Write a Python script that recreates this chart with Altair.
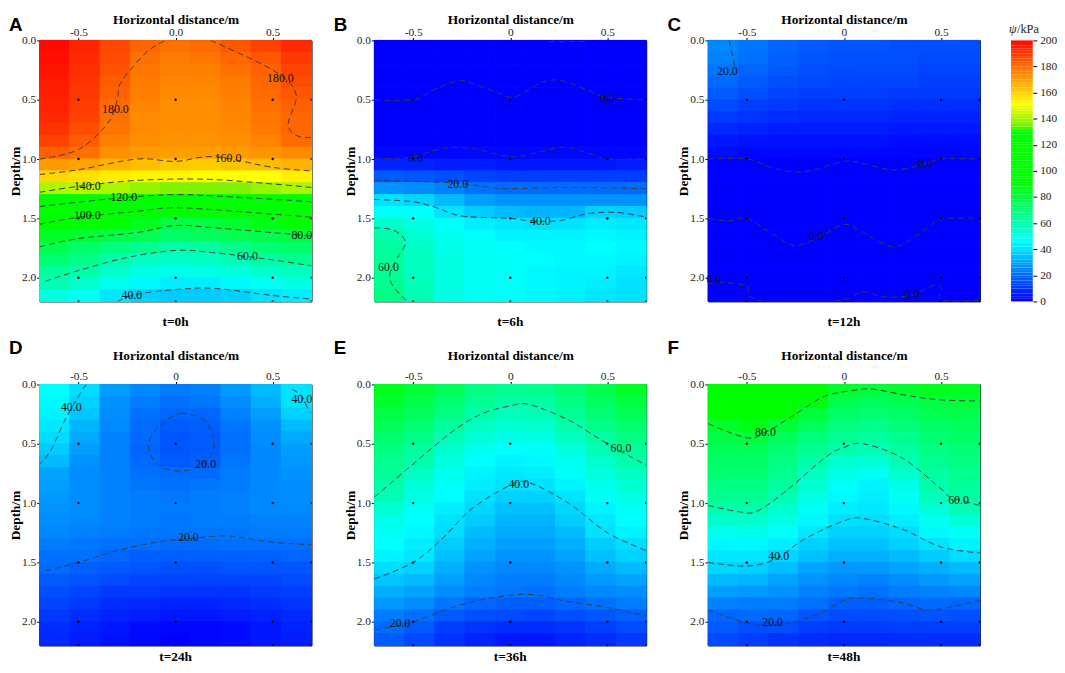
import pandas as pd
import altair as alt

# psi values (kPa), 22 depth rows x 9 columns
heat_a = [
    [198,193,186,180,178,179,183,187,192],[197,192,185,178,176,177,180,183,189],
    [196,191,184,177,175,175,178,181,187],[195,190,182,176,174,174,176,180,185],
    [194,189,181,175,173,173,175,179,183],[193,188,179,174,172,172,174,178,181],
    [192,187,178,173,172,172,174,177,180],[190,185,177,173,172,172,173,176,180],
    [187,182,175,172,171,171,172,174,179],[181,178,172,170,169,169,170,171,173],
    [170,168,165,163,161,160,162,163,165],[158,156,154,152,152,150,150,150,153],
    [140,141,140,137,135,135,135,138,140],[123,123,122,120,116,116,116,118,120],
    [107,108,106,100,97,96,98,100,104],[100,95,90,85,78,78,82,86,90],
    [84,81,78,76,72,74,76,77,79],[76,72,68,65,60,61,65,70,72],
    [70,66,60,56,55,56,58,61,64],[62,60,54,50,48,49,51,54,56],
    [58,54,48,44,42,42,44,47,50],[50,47,41,37,36,36,37,40,42],
]
heat_b = [
    [0,0,0,0,0,0,0,0,0],[0,0,0,0,0,0,0,0,0],[0,0,0,0,0,0,0,0,0],[0,0,0,0,0,0,0,0,0],
    [0,0,0,0,0,0,0,0,0],[0,0,0,0,0,0,0,0,0],[0,0,0,0,0,0,0,0,0],[0,0,0,0,0,0,0,0,0],
    [0,0,0,0,0,0,0,0,0],[1,1,1,1,1,1,1,1,1],
    [6,6,5,5,4,4,4,4,5],[16,15,14,12,11,11,11,11,11],
    [26,25,23,20,19,19,19,19,19],[40,38,33,28,26,26,26,26,26],
    [46,45,40,36,33,32,32,37,36],[54,50,46,42,41,40,40,42,41],
    [60,53,48,45,43,43,43,44,43],[62,55,49,46,45,44,44,45,44],
    [63,56,50,47,46,45,44,44,43],[63,56,50,47,46,44,43,43,41],
    [65,57,50,47,46,44,43,42,40],[67,58,50,47,45,44,43,41,40],
]
heat_c = [
    [24,21,18,16,15,15,14,14,14],[23,20,17,15,14,14,14,13,13],
    [21,18,16,14,13,13,13,12,12],[19,16,14,13,12,12,12,11,11],
    [16,14,12,11,11,11,10,10,10],[13,11,10,9,9,9,8,8,8],
    [10,9,8,7,7,7,6,6,6],[7,6,5,5,5,5,4,4,4],
    [4,3,3,3,3,3,2,2,2],[2,1,1,1,1,1,1,1,1],
    [0,0,0,0,0,0,0,0,0],[0,0,0,0,0,0,0,0,0],[0,0,0,0,0,0,0,0,0],[0,0,0,0,0,0,0,0,0],
    [0,0,0,0,0,0,0,0,0],[0,0,0,0,0,0,0,0,0],[0,0,0,0,0,0,0,0,0],[0,0,0,0,0,0,0,0,0],
    [0,0,0,0,0,0,0,0,0],[0,0,0,0,0,0,0,0,0],[0,0,0,0,0,0,0,0,0],[0,0,0,0,0,0,0,0,0],
]
heat_d = [
    [45,39,28,24,22,23,27,33,40],[44,37,26,22,20,21,25,31,40],
    [43,35,25,20,18,18,23,28,37],[41,32,24,19,16,17,21,26,33],
    [39,30,23,19,15,16,20,25,30],[36,28,23,18,15,16,20,24,28],
    [33,26,23,19,16,17,21,24,27],[29,25,23,20,19,19,22,24,26],
    [28,25,23,21,20,21,22,24,25],[27,25,23,22,21,22,23,24,25],
    [26,25,23,22,22,22,23,24,24],[25,24,23,22,21,22,22,23,23],
    [24,23,22,21,21,21,21,22,22],[22,21,20,20,19,19,20,20,20],
    [20,20,18,17,17,17,17,17,18],[19,17,16,15,14,14,15,15,15],
    [16,15,13,12,12,12,12,12,13],[14,12,10,10,9,9,9,10,11],
    [12,10,8,7,6,6,7,8,9],[10,8,6,5,4,4,5,6,7],
    [8,6,4,2,1,1,2,4,6],[7,5,3,1,0,1,2,4,5],
]
heat_e = [
    [85,80,74,67,64,65,70,76,83],[82,77,71,64,61,61,67,73,79],
    [78,74,67,60,57,58,64,70,75],[75,70,62,56,53,54,60,66,71],
    [71,66,58,52,49,50,56,61,67],[68,62,54,48,45,46,51,58,63],
    [65,60,51,45,43,44,48,54,60],[63,55,48,43,41,42,46,51,56],
    [60,52,46,42,40,40,43,48,53],[58,50,45,40,37,37,40,46,50],
    [53,47,42,38,34,34,38,43,47],[49,45,40,36,32,32,36,41,45],
    [47,44,39,33,30,30,33,40,43],[45,42,36,31,28,28,31,36,39],
    [43,41,34,29,26,26,29,34,37],[39,37,31,26,24,24,26,30,33],
    [35,33,28,24,22,22,24,27,29],[31,29,25,22,21,20,22,24,25],
    [27,25,21,18,17,17,18,20,22],[22,20,16,14,13,12,14,15,17],
    [19,16,11,9,8,8,9,11,13],[16,13,9,6,4,4,6,8,10],
]
heat_f = [
    [108,116,116,100,82,80,82,85,84],[100,108,102,88,77,74,76,79,80],
    [92,96,90,80,72,70,72,76,77],[82,86,80,74,68,66,69,72,74],
    [78,80,74,68,64,62,65,70,72],[75,75,70,64,60,58,62,67,69],
    [72,72,67,60,54,53,58,64,67],[70,70,65,56,49,47,54,62,65],
    [67,67,62,53,46,43,49,60,63],[64,64,58,50,44,42,47,57,61],
    [60,60,54,47,42,41,44,52,59],[54,54,50,44,40,39,42,48,52],
    [48,49,46,41,37,37,39,44,47],[44,44,42,37,34,34,37,40,43],
    [41,41,38,34,31,31,33,36,39],[38,37,34,29,27,27,29,31,33],
    [33,32,29,26,24,23,25,27,29],[28,27,26,23,21,20,22,23,24],
    [23,22,22,20,17,17,18,19,18],[18,19,18,15,13,13,14,15,14],
    [16,14,14,11,10,10,11,11,11],[13,11,9,8,7,7,8,8,8],
]

# contour lines as (x, depth) points
lines_a = [
    [(-.7,1.0),(-.5,.92),(-.35,.7),(-.3,.5),(-.28,.35),(-.15,.1),(-.05,0)],
    [(.18,0),(.5,.25),(.62,.45),(.58,.7),(.62,.8),(.7,.82)],
    [(-.7,1.13),(-.5,1.09),(-.2,1.0),(0,1.02),(.2,.98),(.5,1.07),(.7,1.1)],
    [(-.7,1.28),(-.5,1.23),(-.2,1.18),(.15,1.17),(.5,1.21),(.7,1.24)],
    [(-.7,1.4),(-.3,1.33),(0,1.3),(.3,1.32),(.7,1.36)],
    [(-.7,1.55),(-.5,1.49),(-.2,1.44),(0,1.41),(.3,1.44),(.7,1.49)],
    [(-.7,1.74),(-.5,1.67),(-.2,1.62),(0,1.56),(.2,1.58),(.5,1.62),(.7,1.65)],
    [(-.67,2.03),(-.5,1.94),(-.25,1.83),(0,1.77),(.2,1.79),(.5,1.85),(.7,1.9)],
    [(-.3,2.2),(-.2,2.14),(0,2.1),(.2,2.09),(.5,2.15),(.7,2.18)],
]
lines_b = [
    [(.2,.01),(.4,.01)],
    [(-.7,.5),(-.5,.5),(-.4,.42),(-.27,.34),(-.2,.36),(-.05,.45),(0,.48),(.05,.46),(.17,.35),(.27,.34),(.4,.42),(.5,.48),(.7,.5)],
    [(-.7,1.0),(-.5,.98),(-.35,.91),(-.2,.91),(0,.98),(.1,.96),(.27,.9),(.4,.95),(.5,1.0),(.7,1.0)],
    [(-.7,1.18),(-.3,1.2),(-.1,1.24),(0,1.25),(.3,1.24),(.7,1.25)],
    [(-.7,1.34),(-.5,1.36),(-.38,1.41),(-.25,1.48),(0,1.5),(.1,1.52),(.25,1.52),(.4,1.46),(.55,1.45),(.7,1.49)],
    [(-.7,1.58),(-.6,1.6),(-.54,1.7),(-.58,1.83),(-.62,1.97),(-.6,2.08),(-.53,2.2)],
]
lines_c = [
    [(-.59,0),(-.57,.15),(-.56,.22)],
    [(-.7,1.0),(-.5,1.0),(-.38,1.07),(-.25,1.11),(-.15,1.09),(0,1.02),(.08,1.03),(.25,1.09),(.4,1.05),(.5,1.0),(.7,1.0)],
    [(-.7,1.5),(-.6,1.52),(-.5,1.5),(-.38,1.62),(-.25,1.73),(-.1,1.63),(0,1.55),(.08,1.6),(.25,1.74),(.38,1.64),(.5,1.51),(.7,1.5)],
    [(-.7,2.05),(-.62,2.04),(-.5,2.07),(-.49,2.15),(-.42,2.2)],
    [(-.05,2.2),(.03,2.17),(.1,2.12),(.2,2.16),(.35,2.15),(.45,2.07),(.5,2.08),(.505,2.19),(.7,2.19)],
]
lines_d = [
    [(-.46,0),(-.5,.1),(-.57,.3),(-.64,.55),(-.7,.67)],
    [(.6,.04),(.65,.1),(.68,.2),(.7,.24)],
    [(.03,.24),(.13,.28),(.18,.38),(.2,.5),(.17,.63),(.1,.7),(.03,.73),(-.07,.7),(-.12,.62),(-.14,.5),(-.1,.38),(-.03,.28),(.03,.24)],
    [(-.67,1.57),(-.5,1.5),(-.3,1.4),(-.1,1.33),(0,1.31),(.2,1.28),(.3,1.28),(.5,1.33),(.7,1.35)],
]
lines_e = [
    [(-.7,.95),(-.5,.67),(-.3,.4),(-.15,.25),(0,.18),(.1,.17),(.3,.3),(.5,.5),(.7,.68)],
    [(-.7,1.64),(-.5,1.5),(-.35,1.3),(-.2,1.05),(0,.85),(.1,.83),(.3,1.0),(.5,1.25),(.7,1.4)],
    [(-.7,2.07),(-.5,2.0),(-.3,1.88),(-.1,1.8),(.1,1.77),(.3,1.83),(.5,1.88),(.7,1.95)],
]
lines_f = [
    [(-.7,.33),(-.5,.45),(-.4,.4),(-.25,.25),(-.1,.1),(.05,.05),(.15,.04),(.35,.1),(.5,.13),(.7,.14)],
    [(-.7,1.02),(-.55,1.07),(-.45,1.07),(-.3,.9),(-.1,.62),(0,.53),(.1,.5),(.3,.62),(.5,.88),(.55,.95),(.7,1.02)],
    [(-.7,1.5),(-.5,1.53),(-.35,1.47),(-.2,1.3),(0,1.15),(.1,1.13),(.3,1.22),(.5,1.37),(.7,1.42)],
    [(-.7,1.9),(-.5,2.01),(-.35,2.03),(-.15,1.95),(0,1.82),(.1,1.8),(.3,1.84),(.45,1.9),(.7,1.82)],
]

# contour labels
labels_a = [(-.31,.58,'180.0'),(.54,.32,'180.0'),(.27,.99,'160.0'),(-.455,1.23,'140.0'),(-.267,1.32,'120.0'),
            (-.455,1.47,'100.0'),(.65,1.64,'80.0'),(.37,1.82,'60.0'),(-.225,2.15,'40.0')]
labels_b = [(.5,.49,'0.0'),(-.486,.99,'0.0'),(-.27,1.21,'20.0'),(.155,1.52,'40.0'),(-.627,1.91,'60.0')]
labels_c = [(-.6,.26,'20.0'),(.42,1.03,'0.0'),(-.144,1.645,'0.0'),(-.67,2.01,'0.0'),(.35,2.14,'0.0')]
labels_d = [(-.537,.19,'40.0'),(.65,.125,'40.0'),(.155,.67,'20.0'),(.066,1.29,'20.0')]
labels_e = [(.57,.54,'60.0'),(.044,.84,'40.0'),(-.567,2.01,'20.0')]
labels_f = [(-.404,.4,'80.0'),(.59,.97,'60.0'),(-.336,1.45,'40.0'),(-.367,2.0,'20.0')]

dot_x = [-0.5, 0, 0.5, 0.7]
dot_y = [0.5, 1.0, 1.5, 2.0, 2.2]
color_stops = [0, 45, 90, 130, 133, 150, 200]
color_list = ['#0000ff', '#00ffff', '#00ff00', '#00ff00', '#70f000', '#ffff00', '#ff0000']
bar_levels = list(range(0, 200, 2))

serif = 'Liberation Serif'
pw = 275
ph = 264
psi_scale = alt.Scale(domain=color_stops, range=color_list, interpolate='rgb')
sx = alt.Scale(domain=[-0.7, 0.7], nice=False, zero=False)
sy = alt.Scale(domain=[0, 2.2], reverse=True, nice=False, zero=False)


def heat_frame(rows):
    recs = []
    w = 1.4 / len(rows[0])
    for r, row in enumerate(rows):
        for c, v in enumerate(row):
            recs.append({'x': -0.7 + c * w, 'x2': -0.7 + (c + 1) * w,
                         'y': r * 0.1, 'y2': (r + 1) * 0.1, 'psi': v})
    return pd.DataFrame(recs)


def panel(letter, rows, lines, labels, t, zero_label, lx, ly, title_pad, bottom_off):
    lab = "datum.value == 0 ? '%s' : datum.value < 0 ? '-' + format(-datum.value, '.1f') : format(datum.value, '.1f')" % zero_label
    x_axis = alt.Axis(orient='top', values=[-0.5, 0, 0.5], labelExpr=lab, title='Horizontal distance/m',
                      grid=False, titleFont=serif, titleFontSize=13.5, titleFontWeight='bold', titleColor='black',
                      titlePadding=title_pad, labelFont=serif, labelFontSize=11.5, labelColor='#222',
                      labelPadding=0, tickColor='black', domainColor='black', tickSize=3)
    y_axis = alt.Axis(values=[0, 0.5, 1, 1.5, 2], format='.1f', title='Depth/m', grid=False,
                      titleFont=serif, titleFontSize=13.5, titleFontWeight='bold', titleColor='black',
                      titlePadding=-1, labelFont=serif, labelFontSize=11.5, labelColor='#222',
                      labelPadding=1, tickColor='black', domainColor='black', tickSize=3)
    x_enc = alt.X('x:Q', scale=sx, axis=x_axis)
    y_enc = alt.Y('y:Q', scale=sy, axis=y_axis)
    heat = alt.Chart(heat_frame(rows)).mark_rect(strokeWidth=1).encode(
        x=x_enc,
        x2='x2:Q',
        y=y_enc,
        y2='y2:Q',
        color=alt.Color('psi:Q', scale=psi_scale, legend=None),
        stroke=alt.Color('psi:Q', scale=psi_scale, legend=None),
    )
    recs = []
    for i, line in enumerate(lines):
        for j, p in enumerate(line):
            recs.append({'id': i, 'n': j, 'x': p[0], 'y': p[1]})
    contour = alt.Chart(pd.DataFrame(recs)).mark_line(
        color='#3c3c3c', strokeWidth=1, strokeDash=[6, 4], interpolate='cardinal', clip=True
    ).encode(x=x_enc, y=y_enc, detail='id:N', order='n:Q')
    dots = alt.Chart(pd.DataFrame([{'x': a, 'y': b} for a in dot_x for b in dot_y])).mark_circle(
        size=6, color='black', opacity=1, clip=True
    ).encode(x=x_enc, y=y_enc)
    text = alt.Chart(pd.DataFrame(labels, columns=['x', 'y', 't'])).mark_text(
        font=serif, fontSize=12, color='#111'
    ).encode(x=x_enc, y=y_enc, text='t:N')
    tag = alt.Chart(pd.DataFrame({'t': [letter]})).mark_text(
        font='Liberation Sans', fontSize=19, fontWeight='bold', color='black', align='left', baseline='alphabetic'
    ).encode(x=alt.value(lx), y=alt.value(ly), text='t:N')
    return alt.layer(heat, contour, dots, text, tag).properties(
        width=pw, height=ph,
        title=alt.TitleParams(t, orient='bottom', anchor='middle', font=serif, fontSize=13.5,
                              fontWeight='bold', color='black', offset=bottom_off),
    )


bar_df = pd.DataFrame({'lo': bar_levels, 'hi': [v + 2 for v in bar_levels]})
bar = alt.Chart(bar_df).mark_rect().encode(
    x=alt.value(0), x2=alt.value(22),
    y=alt.Y('lo:Q', scale=alt.Scale(domain=[0, 200], nice=False),
            axis=alt.Axis(orient='right', values=list(range(0, 201, 20)), title=None, grid=False, domain=False,
                          labelFont=serif, labelFontSize=11.5, labelColor='#222', tickColor='black',
                          tickSize=4, labelPadding=3)),
    y2='hi:Q',
    color=alt.Color('lo:Q', scale=psi_scale, legend=None),
)
psi_tag = alt.Chart(pd.DataFrame({'t': ['ψ']})).mark_text(
    font=serif, fontSize=12.5, fontStyle='italic', color='#222', align='left'
).encode(x=alt.value(-2), y=alt.value(-11), text='t:N')
kpa_tag = alt.Chart(pd.DataFrame({'t': ['/kPa']})).mark_text(
    font=serif, fontSize=12.5, color='#222', align='left'
).encode(x=alt.value(6), y=alt.value(-11), text='t:N')
colorbar = alt.layer(bar, psi_tag, kpa_tag).properties(width=22, height=ph, view=alt.ViewConfig(strokeWidth=0))

row1 = alt.hconcat(
    alt.hconcat(
        panel('A', heat_a, lines_a, labels_a, 't=0h', '0.0', -31, -10, 0, 13),
        panel('B', heat_b, lines_b, labels_b, 't=6h', '0', -41, -10, 0, 13),
        panel('C', heat_c, lines_c, labels_c, 't=12h', '0', -41, -10, 0, 13),
        spacing=19.5,
    ),
    colorbar,
    spacing=28.5,
)
row2 = alt.hconcat(
    panel('D', heat_d, lines_d, labels_d, 't=24h', '0', -31, -31, 8, 4),
    panel('E', heat_e, lines_e, labels_e, 't=36h', '0', -41, -31, 8, 4),
    panel('F', heat_f, lines_f, labels_f, 't=48h', '0', -41, -31, 8, 4),
    spacing=19.5,
)

chart = alt.vconcat(row1, row2, spacing=9).properties(
    padding=0, background='white'
).configure_view(
    stroke='black', strokeWidth=1
)

chart.save("out.html", embed_options={"renderer": "svg", "actions": False})
